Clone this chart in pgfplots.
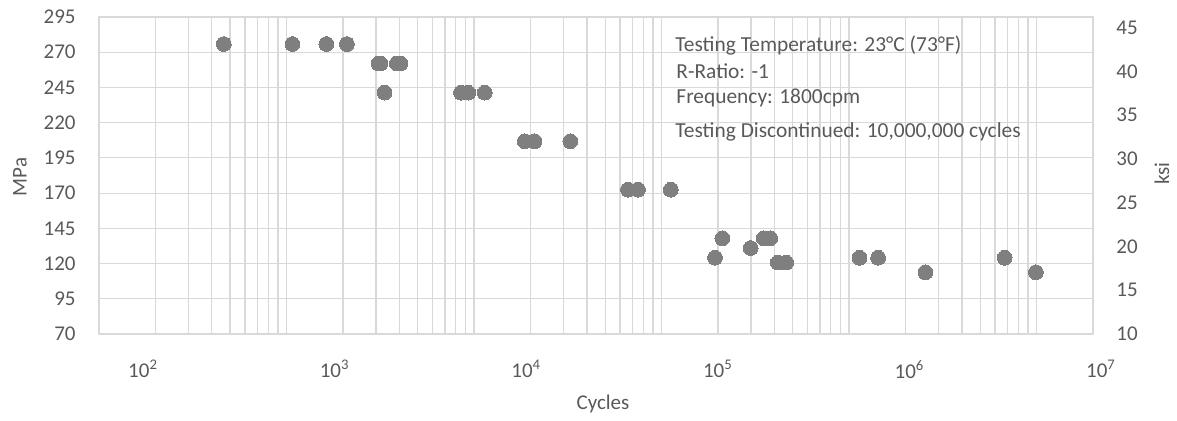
\documentclass[border=0pt]{standalone}
\usepackage{fontspec}
\setmainfont{Carlito}
\usepackage{pgfplots}
\pgfplotsset{compat=1.18}
\definecolor{gridgray}{HTML}{D9D9D9}
\definecolor{txt}{HTML}{595959}
\definecolor{dot}{HTML}{7F7F7F}
\pgfplotstableread{
cycles mpa
463 275.8
1075 275.8
1631 275.8
2100 275.8
3097 262.0
3174 262.0
3876 262.0
4056 262.0
3334 241.3
8516 241.3
9314 241.3
11402 241.3
18664 206.8
21020 206.8
32610 206.8
66240 172.4
74880 172.4
112060 172.4
211000 137.9
351100 137.9
379600 137.9
192900 124.1
298900 131.0
416800 120.7
461800 120.7
1137000 124.1
1429000 124.1
2555000 113.8
6753000 124.1
9916000 113.8
}\sn
\newcommand{\tickfont}{\fontsize{10.5}{12}\selectfont}
\newcommand{\notefont}{\fontsize{10.7}{12}\selectfont}
\begin{document}
\begin{tikzpicture}
\path[use as bounding box] (-49.5pt,-43.5pt) rectangle (539pt,167pt);
\begin{axis}[
  at={(0,0)}, anchor=south west,
  scale only axis, width=497pt, height=158.5pt,
  xmode=log, xmin=100, xmax=2e7,
  ymin=70, ymax=295, ytick={70,95,...,295},
  xtick={1e2,1e3,1e4,1e5,1e6,1e7}, xticklabels={},
  minor xtick={2e2,3e2,4e2,5e2,6e2,7e2,8e2,9e2,
    2e3,3e3,4e3,5e3,6e3,7e3,8e3,9e3,
    2e4,3e4,4e4,5e4,6e4,7e4,8e4,9e4,
    2e5,3e5,4e5,5e5,6e5,7e5,8e5,9e5,
    2e6,3e6,4e6,5e6,6e6,7e6,8e6,9e6,2e7},
  xmajorgrids, xminorgrids, ymajorgrids,
  grid style={gridgray, line width=0.6pt},
  minor grid style={gridgray, line width=0.6pt},
  major tick length=0pt, minor tick length=0pt,
  axis line style={gridgray, line width=0.6pt},
  /pgf/number format/assume math mode=true,
  yticklabel style={font=\tickfont, text=txt, inner sep=0pt, xshift=-11.5pt},
  ylabel={MPa},
  ylabel style={at={(axis description cs:-0.0795,0.495)}, anchor=center, font=\tickfont, text=txt, inner sep=0pt},
  xlabel={Cycles},
  xlabel style={at={(axis description cs:0.507,-0.1924)}, anchor=north, font=\tickfont, text=txt, inner sep=0pt},
  clip=false,
]
\addplot[only marks, color=dot, mark=*, mark size=3.7pt, mark options={draw=dot, fill=dot, line width=0pt}] table[x=cycles, y=mpa] {\sn};
\node[anchor=base west, inner sep=0pt, text=txt, font=\notefont] at (rel axis cs:0.5795,0.8927) {Testing Temperature: 23°C (73°F)};
\node[anchor=base west, inner sep=0pt, text=txt, font=\notefont] at (rel axis cs:0.5805,0.8066) {R-Ratio: -1};
\node[anchor=base west, inner sep=0pt, text=txt, font=\notefont] at (rel axis cs:0.5805,0.7278) {Frequency: 1800cpm};
\node[anchor=base west, inner sep=0pt, text=txt, font=\notefont] at (rel axis cs:0.5795,0.6205) {Testing Discontinued: 10,000,000 cycles};
\end{axis}
\begin{axis}[
  at={(0,0)}, anchor=south west,
  scale only axis, width=510.5pt, height=158.5pt,
  xmode=log, xmin=58.87, xmax=1.2556e7,
  ymin=0, ymax=1, ytick=\empty,
  axis line style={draw=none},
  xtick={1e2,1e3,1e4,1e5,1e6,1e7},
  xticklabels={10\textsuperscript{2},10\textsuperscript{3},10\textsuperscript{4},10\textsuperscript{5},10\textsuperscript{6},10\textsuperscript{7}},
  major tick length=0pt, minor tick length=0pt,
  xticklabel style={font=\tickfont, text=txt, inner sep=0pt, anchor=north, yshift=-13pt},
]
\end{axis}
\begin{axis}[
  at={(0,0)}, anchor=south west,
  scale only axis, width=497pt, height=158.5pt,
  xmin=0, xmax=1, hide x axis,
  axis y line*=right, y axis line style={draw=none},
  ymin=10, ymax=46.2, ytick={10,15,...,45},
  major tick length=0pt,
  /pgf/number format/assume math mode=true,
  yticklabel style={font=\tickfont, text=txt, inner sep=0pt, xshift=11.5pt},
  ylabel={ksi},
  ylabel style={at={(axis description cs:1.0694,0.5063)}, anchor=center, font=\tickfont, text=txt, inner sep=0pt},
]
\end{axis}
\end{tikzpicture}
\end{document}
